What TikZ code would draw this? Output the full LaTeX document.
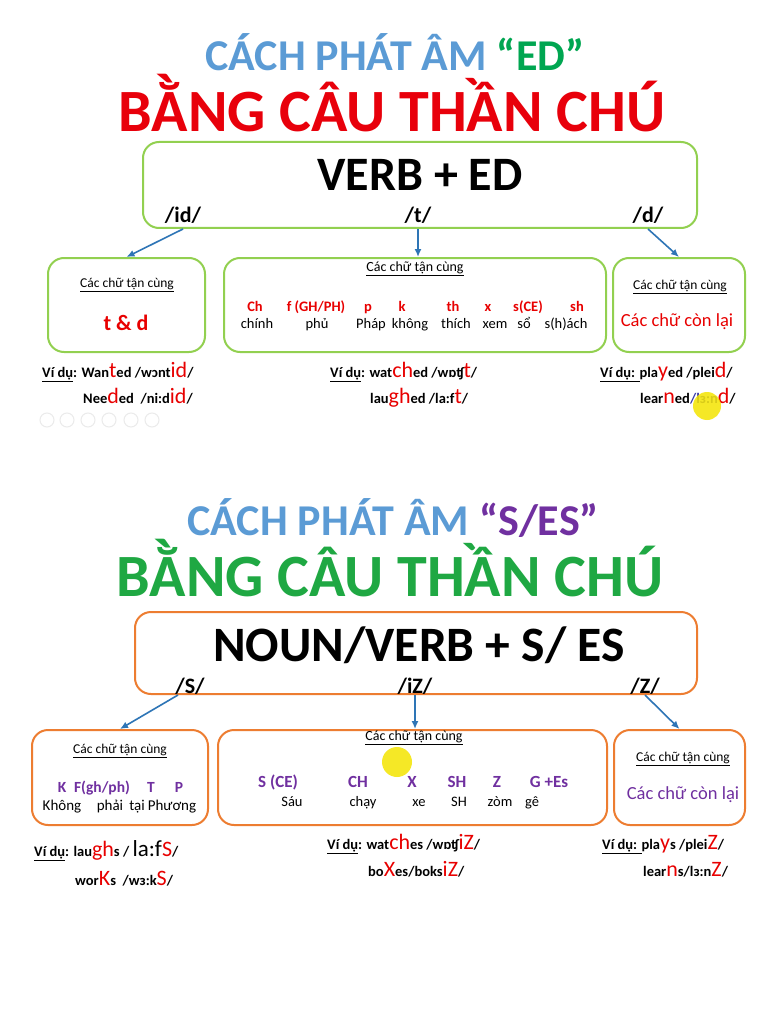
\documentclass[tikz,border=0pt]{standalone}
\usepackage{fontspec}
\setmainfont{Carlito}
\usetikzlibrary{arrows.meta,positioning}
\definecolor{titleblue}{HTML}{5B9BD5}
\definecolor{edgreen}{HTML}{00A651}
\definecolor{titlered}{HTML}{E8000B}
\definecolor{titlegreen}{HTML}{1FA843}
\definecolor{sespurple}{HTML}{7030A0}
\definecolor{boxgreen}{HTML}{92D050}
\definecolor{boxorange}{HTML}{ED7D31}
\definecolor{arrowblue}{HTML}{2E75B6}
\definecolor{hired}{HTML}{E80000}
\definecolor{ipablue}{HTML}{3A3AA8}
\definecolor{cursor}{HTML}{F4E500}
% big coloured letters in the examples
\newcommand\hl[1]{{\fontsize{22}{22}\selectfont\mdseries\color{hired}#1}}
\newcommand\bigk[1]{{\fontsize{23}{23}\selectfont\mdseries #1}}
\newcommand\vidu{\underline{Ví dụ}: }
\newcommand\lastletters{\underline{Các chữ tận cùng}}
\tikzset{
  title/.style={inner sep=0pt, font=\bfseries\fontsize{44}{44}\selectfont, text=titleblue},
  bigtitle/.style={inner sep=0pt, font=\bfseries\fontsize{60}{60}\selectfont},
  greenbox/.style={draw=boxgreen, line width=2pt, rounded corners=16pt, fill=white},
  orangebox/.style={draw=boxorange, line width=2pt, rounded corners=16pt, fill=white},
  rule/.style={inner sep=0pt, font=\bfseries\fontsize{48}{48}\selectfont},
  sound/.style={inner sep=0pt, font=\bfseries\fontsize{22}{22}\selectfont},
  head/.style={inner sep=0pt, font=\fontsize{13.5}{13.5}\selectfont},
  letters/.style={inner sep=0pt, anchor=base, font=\bfseries\fontsize{14.5}{14.5}\selectfont},
  words/.style={inner sep=0pt, anchor=base, font=\fontsize{14.5}{14.5}\selectfont},
  rest/.style={inner sep=0pt, font=\fontsize{18.5}{18.5}\selectfont},
  example/.style={inner sep=0pt, anchor=base west, font=\bfseries\fontsize{14.5}{14.5}\selectfont},
  link/.style={draw=arrowblue, line width=1.6pt, -{Latex[length=8pt,width=7pt]}},
}
\begin{document}
\begin{tikzpicture}[x=1pt,y=-1pt]
\useasboundingbox[fill=white] (0,0) rectangle (768,1024);
% ED part
\node[title] (edtitle) at (395,52) {CÁCH PHÁT ÂM \textcolor{edgreen}{“ED”}};
\node[bigtitle, text=titlered] (edspell) at (392,103) {BẰNG CÂU THẦN CHÚ};
\node[greenbox, minimum width=554pt, minimum height=86pt] (verb) at (420,185) {};
\node[rule] (verbtxt) at (420,175) {VERB + ED};
\node[sound] (id) at (183,215) {/id/};
\node[sound] (t) at (418,215) {/t/};
\node[sound] (d) at (648,215) {/d/};
\node[greenbox, minimum width=157pt, minimum height=94pt] (tdbox) at (126.5,305) {};
\node[greenbox, minimum width=382pt, minimum height=94pt] (tbox) at (415,305) {};
\node[greenbox, minimum width=132pt, minimum height=94pt] (dbox) at (679,305) {};
\draw[link] (verb.south -| id) -- (tdbox.north);
\draw[link] (verb.south -| t) -- (t |- tbox.north);
\draw[link] (verb.south -| d) -- (dbox.north);
\node[head] (tdhead) at (127,285) {\lastletters};
\node[sound, text=hired] (tdtxt) at (126,323) {t \& d};
\node[head, font=\fontsize{14}{14}\selectfont] (thead) at (415,269) {\lastletters};
\foreach \x/\top [count=\i] in {255/Ch, 316/{f (GH/PH)}, 368/p, 402/k,
    453/th, 488/x, 528/s(CE), 577/sh}
  \node[letters, text=hired] (tl\i) at (\x,311) {\top};
\foreach \x/\bot [count=\i] in {257/chính, 317/phủ, 371/Pháp, 410/không, 456/thích, 495/xem, 524/sổ, 566/s(h)ách}
  \node[words] (tw\i) at (\x,328) {\bot};
\node[head] (dhead) at (680,287) {\lastletters};
\node[rest, text=hired] (dtxt) at (677,322) {Các chữ còn lại};
\node[example] (ex1) at (42,377) {\vidu Wan\hl{t}ed /wɔnt\hl{id}/};
\node[example] (ex2) at (83,403) {Nee\hl{d}ed \ /ni:d\hl{id}/};
\node[example] (ex3) at (330,377) {\vidu wat\hl{ch}ed /wɒʧ\hl{t}/};
\node[example] (ex4) at (370,403) {lau\hl{gh}ed /la:f\hl{t}/};
\node[example] (ex5) at (600,377) {\underline{Ví dụ: }pla\hl{y}ed /plei\hl{d}/};
\node[example] (ex6) at (640,403) {lear\hl{n}ed\textcolor{ipablue}{/lɜ:n}\hl{d}/};
\fill[cursor, opacity=0.85] (707,406) circle (14);
\foreach \x in {47,67,88,109,131,152}
  \draw[black!8, line width=1pt] (\x,420) circle (7);
% S/ES part
\node[title] (estitle) at (393,518) {CÁCH PHÁT ÂM \textcolor{sespurple}{“S/ES”}};
\node[bigtitle, text=titlegreen] (esspell) at (390,568) {BẰNG CÂU THẦN CHÚ};
\node[orangebox, minimum width=562pt, minimum height=82pt] (noun) at (416,653) {};
\node[rule, font=\bfseries\fontsize{49.5}{49.5}\selectfont] (nountxt) at (419,645) {NOUN/VERB + S/ ES};
\node[sound] (s) at (190,686) {/S/};
\node[sound] (iz) at (415,686) {/iZ/};
\node[sound] (z) at (645,686) {/Z/};
\node[orangebox, minimum width=176pt, minimum height=95pt] (sbox) at (120,777.5) {};
\node[orangebox, minimum width=389pt, minimum height=95pt] (izbox) at (412.5,777.5) {};
\node[orangebox, minimum width=131pt, minimum height=95pt] (zbox) at (679.5,777.5) {};
\draw[link] (noun.south -| 178,0) -- (sbox.north);
\draw[link] (noun.south -| iz) -- (iz |- izbox.north);
\draw[link] (noun.south -| z) -- (zbox.north);
\node[head] (shead) at (120,751) {\lastletters};
\foreach \x/\top [count=\i] in {62/K, 102/{F(gh/ph)}, 151/T, 179/P}
  \node[letters, text=sespurple, font=\bfseries\fontsize{15.5}{15.5}\selectfont] (sl\i) at (\x,792) {\top};
\foreach \x/\bot [count=\i] in {62/Không, 110/phải, 137/tại, 172/Phương}
  \node[words, font=\fontsize{15}{15}\selectfont] (sw\i) at (\x,810) {\bot};
\node[head, font=\fontsize{14}{14}\selectfont] (izhead) at (414,738) {\lastletters};
\foreach \x/\top [count=\i] in {278/S (CE), 358/CH, 412/X, 457/SH, 497/Z, 549/G +Es}
  \node[letters, text=sespurple, font=\bfseries\fontsize{17}{17}\selectfont] (il\i) at (\x,787) {\top};
\foreach \x/\bot [count=\i] in {292/Sáu, 363/chạy, 419/xe, 459/SH, 500/zòm, 532/gê}
  \node[words] (iw\i) at (\x,806) {\bot};
\node[head] (zhead) at (683,759) {\lastletters};
\node[rest, text=sespurple] (ztxt) at (683,795) {Các chữ còn lại};
\node[example] (ex7) at (34,856) {\vidu lau\hl{gh}s / \bigk{la:f}\hl{S}/};
\node[example] (ex8) at (75,885) {wor\hl{K}s \ /wɜ:k\hl{S}/};
\node[example] (ex9) at (327,849) {\vidu wat\hl{ch}es /wɒʧ\hl{iZ}/};
\node[example] (ex10) at (368,876) {bo\hl{X}es/boks\hl{iZ}/};
\node[example] (ex11) at (602,849) {\underline{Ví dụ: }pla\hl{y}s /plei\hl{Z}/};
\node[example] (ex12) at (643,876) {lear\hl{n}s/lɜ:n\hl{Z}/};
\fill[cursor, opacity=0.85] (397,762) circle (15);
\end{tikzpicture}
\end{document}
